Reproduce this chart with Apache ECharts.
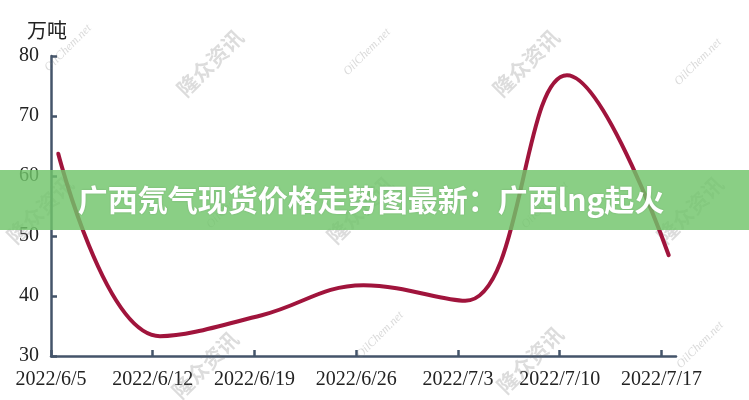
<!DOCTYPE html>
<html>
<head>
<meta charset="utf-8">
<script src="https://cdn.jsdelivr.net/npm/echarts@6/dist/echarts.min.js"></script>
<style>
html,body{margin:0;padding:0;background:#fff;}
#c{width:749px;height:400px;}
</style>
</head>
<body>
<div id="c"></div>
<script>
// Data
var dates = ['2022/6/5','2022/6/12','2022/6/19','2022/6/26','2022/7/3','2022/7/10','2022/7/17'];
var values = [63.7, 33.3, 36.8, 41.8, 39.2, 76.8, 46.8];
var tickLabels = ['2022/6/5','2022/6/12','2022/6/19','2022/6/26','2022/7/3','2022/7/10','2022/7/17'];
var yTicks = [30, 40, 50, 60, 70, 80];
var unitName = '万吨';
var bannerText = '广西氖气现货价格走势图最新：广西lng起火';

var DAY = 86400000;
var t0 = new Date(2022, 5, 5).getTime();
function dayIndex(s){ var p = s.split('/'); return Math.round((new Date(+p[0], +p[1]-1, +p[2]).getTime() - t0)/DAY); }
var seriesData = dates.map(function(d,i){ return [dayIndex(d) + 0.5, values[i]]; });
var tickDays = tickLabels.map(dayIndex);

var axisColor = '#44546a';
var labelFont = 'Liberation Serif';

var wm = [];
function addWm(text, x, y, big){
  wm.push({
    type:'text', x:x, y:y, rotation: Math.PI/4, z: 1, silent:true,
    style:{ text:text, fill: big ? 'rgba(110,110,110,0.24)' : 'rgba(120,120,120,0.28)',
      font: big ? 'bold 21px "Noto Sans CJK SC"' : 'italic 12px "Liberation Serif"',
      align:'center', verticalAlign:'middle' }
  });
}
addWm('隆众资讯', 210, 63, true);
addWm('隆众资讯', 526, 63, true);
addWm('隆众资讯', 40, 210, true);
addWm('隆众资讯', 360, 210, true);
addWm('隆众资讯', 690, 210, true);
addWm('隆众资讯', 205, 365, true);
addWm('隆众资讯', 530, 360, true);
addWm('OilChem.net', 68, 48, false);
addWm('OilChem.net', 367, 52, false);
addWm('OilChem.net', 698, 62, false);
addWm('OilChem.net', 230, 205, false);
addWm('OilChem.net', 545, 205, false);
addWm('OilChem.net', 380, 335, false);
addWm('OilChem.net', 700, 345, false);

var chart = echarts.init(document.getElementById('c'));
chart.setOption({
  animation:false,
  backgroundColor:'#ffffff',
  grid:{ left:51, right:73, top:56, bottom:44 },
  xAxis:{
    type:'value', min:0, max:43, interval:7,
    splitLine:{show:false},
    axisLine:{ show:true, lineStyle:{ color:axisColor, width:2.5 } },
    axisTick:{ show:true, inside:true, length:6, lineStyle:{ color:axisColor, width:2.5 }, customValues: tickDays },
    axisLabel:{ color:'#222', fontFamily:labelFont, fontSize:20, margin:14,
      customValues: tickDays,
      formatter:function(v){ var i = tickDays.indexOf(Math.round(v)); return i>=0 ? tickLabels[i] : ''; } }
  },
  yAxis:{
    type:'value', min:yTicks[0], max:yTicks[yTicks.length-1], interval:10,
    splitLine:{show:false},
    axisLine:{ show:true, lineStyle:{ color:axisColor, width:2.5 } },
    axisTick:{ show:true, inside:true, length:6, lineStyle:{ color:axisColor, width:2.5 } },
    axisLabel:{ color:'#222', fontFamily:labelFont, fontSize:20, margin:12 }
  },
  series:[{
    type:'line', data:seriesData, smooth:0.4, showSymbol:false, symbol:'none',
    lineStyle:{ color:'#a0143c', width:4, cap:'round' }, z:3
  }],
  graphic: wm.concat([
    { type:'text', left:27, top:20, z:5, style:{ text:unitName, fill:'#222', font:'20px "Noto Sans CJK SC"' } },
    { type:'rect', shape:{ x:0, y:170, width:749, height:60 }, z:100,
      style:{ fill:'rgba(112,196,106,0.82)' } },
    { type:'text', x:371, y:200, z:101,
      style:{ text:bannerText, fill:'#ffffff', font:'bold 30px "Noto Sans CJK SC"', align:'center', verticalAlign:'middle',
        textShadowColor:'rgba(0,0,0,0.15)', textShadowBlur:2 } }
  ])
});
</script>
</body>
</html>
